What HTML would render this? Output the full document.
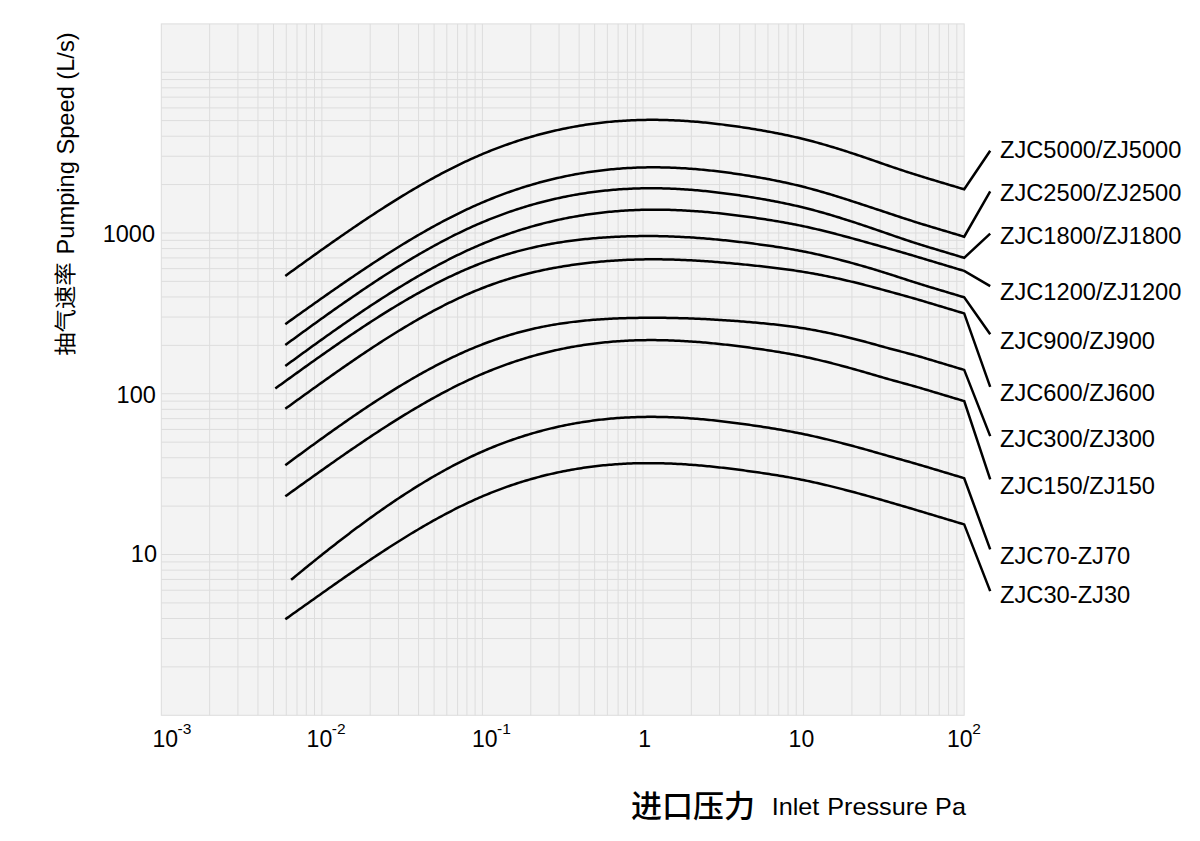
<!DOCTYPE html>
<html><head><meta charset="utf-8"><title>Pumping Speed</title>
<style>html,body{margin:0;padding:0;background:#fff;width:1200px;height:841px;overflow:hidden}svg{display:block}text{font-family:"Liberation Sans","Noto Sans CJK SC",Arial,sans-serif;fill:#000}</style></head><body>
<svg width="1200" height="841" viewBox="0 0 1200 841">
<rect x="161.3" y="23.9" width="802.9" height="691.4" fill="#f3f3f3"/>
<path d="M209.64 23.9V715.3M237.91 23.9V715.3M257.97 23.9V715.3M273.53 23.9V715.3M286.25 23.9V715.3M297.00 23.9V715.3M306.31 23.9V715.3M314.52 23.9V715.3M321.87 23.9V715.3M370.21 23.9V715.3M398.48 23.9V715.3M418.54 23.9V715.3M434.10 23.9V715.3M446.82 23.9V715.3M457.57 23.9V715.3M466.88 23.9V715.3M475.09 23.9V715.3M482.44 23.9V715.3M530.78 23.9V715.3M559.05 23.9V715.3M579.11 23.9V715.3M594.67 23.9V715.3M607.39 23.9V715.3M618.14 23.9V715.3M627.45 23.9V715.3M635.66 23.9V715.3M643.01 23.9V715.3M691.35 23.9V715.3M719.62 23.9V715.3M739.68 23.9V715.3M755.24 23.9V715.3M767.96 23.9V715.3M778.71 23.9V715.3M788.02 23.9V715.3M796.23 23.9V715.3M803.58 23.9V715.3M851.92 23.9V715.3M880.19 23.9V715.3M900.25 23.9V715.3M915.81 23.9V715.3M928.53 23.9V715.3M939.28 23.9V715.3M948.59 23.9V715.3M956.80 23.9V715.3M161.3 666.90H964.2M161.3 638.59H964.2M161.3 618.51H964.2M161.3 602.93H964.2M161.3 590.20H964.2M161.3 579.43H964.2M161.3 570.11H964.2M161.3 561.89H964.2M161.3 554.53H964.2M161.3 506.13H964.2M161.3 477.82H964.2M161.3 457.74H964.2M161.3 442.16H964.2M161.3 429.43H964.2M161.3 418.66H964.2M161.3 409.34H964.2M161.3 401.12H964.2M161.3 393.76H964.2M161.3 345.36H964.2M161.3 317.05H964.2M161.3 296.97H964.2M161.3 281.39H964.2M161.3 268.66H964.2M161.3 257.89H964.2M161.3 248.57H964.2M161.3 240.35H964.2M161.3 232.99H964.2M161.3 184.59H964.2M161.3 156.28H964.2M161.3 136.20H964.2M161.3 120.62H964.2M161.3 107.89H964.2M161.3 97.12H964.2M161.3 87.80H964.2M161.3 79.58H964.2M161.3 72.22H964.2" stroke="#dddddd" stroke-width="1" fill="none"/>
<rect x="161.3" y="23.9" width="802.9" height="691.4" fill="none" stroke="#dddddd" stroke-width="1"/>
<g stroke="#000" stroke-width="2.5" fill="none" stroke-linejoin="miter" stroke-miterlimit="10">
<path d="M285.3,275.94L287.3,274.49L289.3,273.05L291.3,271.60L293.3,270.16L295.3,268.72L297.3,267.27L299.3,265.83L301.3,264.40L303.3,262.96L305.3,261.52L307.3,260.09L309.3,258.65L311.3,257.22L313.3,255.80L315.3,254.37L317.3,252.94L319.3,251.52L321.3,250.10L323.3,248.69L325.3,247.27L327.3,245.86L329.3,244.45L331.3,243.04L333.3,241.64L335.3,240.24L337.3,238.85L339.3,237.45L341.3,236.06L343.3,234.68L345.3,233.30L347.3,231.92L349.3,230.55L351.3,229.18L353.3,227.81L355.3,226.45L357.3,225.10L359.3,223.74L361.3,222.40L363.3,221.06L365.3,219.72L367.3,218.39L369.3,217.06L371.3,215.74L373.3,214.42L375.3,213.11L377.3,211.81L379.3,210.51L381.3,209.22L383.3,207.93L385.3,206.65L387.3,205.37L389.3,204.10L391.3,202.84L393.3,201.59L395.3,200.34L397.3,199.09L399.3,197.86L401.3,196.63L403.3,195.41L405.3,194.20L407.3,192.99L409.3,191.79L411.3,190.60L413.3,189.41L415.3,188.24L417.3,187.07L419.3,185.91L421.3,184.76L423.3,183.62L425.3,182.48L427.3,181.35L429.3,180.24L431.3,179.13L433.3,178.03L435.3,176.93L437.3,175.85L439.3,174.78L441.3,173.71L443.3,172.66L445.3,171.61L447.3,170.58L449.3,169.55L451.3,168.54L453.3,167.53L455.3,166.54L457.3,165.55L459.3,164.57L461.3,163.61L463.3,162.66L465.3,161.71L467.3,160.78L469.3,159.86L471.3,158.95L473.3,158.05L475.3,157.16L477.3,156.28L479.3,155.41L481.3,154.56L483.3,153.72L485.3,152.88L487.3,152.06L489.3,151.25L491.3,150.45L493.3,149.66L495.3,148.89L497.3,148.12L499.3,147.37L501.3,146.62L503.3,145.89L505.3,145.17L507.3,144.45L509.3,143.75L511.3,143.06L513.3,142.38L515.3,141.72L517.3,141.06L519.3,140.41L521.3,139.78L523.3,139.15L525.3,138.53L527.3,137.93L529.3,137.34L531.3,136.75L533.3,136.18L535.3,135.62L537.3,135.06L539.3,134.52L541.3,133.99L543.3,133.47L545.3,132.96L547.3,132.46L549.3,131.97L551.3,131.49L553.3,131.02L555.3,130.56L557.3,130.11L559.3,129.67L561.3,129.24L563.3,128.82L565.3,128.41L567.3,128.01L569.3,127.62L571.3,127.24L573.3,126.87L575.3,126.51L577.3,126.16L579.3,125.82L581.3,125.49L583.3,125.17L585.3,124.86L587.3,124.55L589.3,124.26L591.3,123.98L593.3,123.71L595.3,123.45L597.3,123.19L599.3,122.95L601.3,122.71L603.3,122.49L605.3,122.27L607.3,122.07L609.3,121.87L611.3,121.68L613.3,121.50L615.3,121.33L617.3,121.18L619.3,121.02L621.3,120.88L623.3,120.75L625.3,120.63L627.3,120.51L629.3,120.41L631.3,120.31L633.3,120.23L635.3,120.15L637.3,120.08L639.3,120.02L641.3,119.97L643.3,119.93L645.3,119.89L647.3,119.87L649.3,119.85L651.3,119.85L653.3,119.85L655.3,119.86L657.3,119.87L659.3,119.90L661.3,119.94L663.3,119.98L665.3,120.03L667.3,120.09L669.3,120.15L671.3,120.23L673.3,120.31L675.3,120.40L677.3,120.50L679.3,120.60L681.3,120.71L683.3,120.83L685.3,120.96L687.3,121.09L689.3,121.23L691.3,121.38L693.3,121.54L695.3,121.70L697.3,121.87L699.3,122.04L701.3,122.22L703.3,122.41L705.3,122.61L707.3,122.81L709.3,123.01L711.3,123.23L713.3,123.45L715.3,123.67L717.3,123.90L719.3,124.14L721.3,124.38L723.3,124.63L725.3,124.89L727.3,125.15L729.3,125.41L731.3,125.69L733.3,125.96L735.3,126.24L737.3,126.53L739.3,126.82L741.3,127.12L743.3,127.42L745.3,127.73L747.3,128.04L749.3,128.35L751.3,128.67L753.3,129.00L755.3,129.33L757.3,129.66L759.3,130.00L761.3,130.34L763.3,130.69L765.3,131.05L767.3,131.41L769.3,131.77L771.3,132.14L773.3,132.52L775.3,132.90L777.3,133.29L779.3,133.68L781.3,134.08L783.3,134.49L785.3,134.91L787.3,135.33L789.3,135.76L791.3,136.20L793.3,136.64L795.3,137.10L797.3,137.56L799.3,138.03L801.3,138.51L803.3,139.00L805.3,139.49L807.3,140.00L809.3,140.51L811.3,141.04L813.3,141.57L815.3,142.11L817.3,142.66L819.3,143.21L821.3,143.77L823.3,144.34L825.3,144.92L827.3,145.50L829.3,146.10L831.3,146.69L833.3,147.30L835.3,147.91L837.3,148.52L839.3,149.14L841.3,149.77L843.3,150.40L845.3,151.04L847.3,151.68L849.3,152.33L851.3,152.98L853.3,153.64L855.3,154.30L857.3,154.97L859.3,155.64L861.3,156.31L863.3,156.99L865.3,157.67L867.3,158.35L869.3,159.03L871.3,159.72L873.3,160.41L875.3,161.11L877.3,161.80L879.3,162.50L881.3,163.20L883.3,163.89L885.3,164.59L887.3,165.28L889.3,165.96L891.3,166.65L893.3,167.33L895.3,168.01L897.3,168.68L899.3,169.35L901.3,170.02L903.3,170.68L905.3,171.34L907.3,171.99L909.3,172.64L911.3,173.29L913.3,173.92L915.3,174.56L917.3,175.18L919.3,175.80L921.3,176.42L923.3,177.03L925.3,177.63L927.3,178.23L929.3,178.83L931.3,179.43L933.3,180.03L935.3,180.63L937.3,181.23L939.3,181.83L941.3,182.43L943.3,183.03L945.3,183.63L947.3,184.23L949.3,184.83L951.3,185.43L953.3,186.03L955.3,186.63L957.3,187.23L959.3,187.83L961.3,188.43L963.3,189.03L964.2,189.30L990.2,150.70"/>
<path d="M285.3,324.15L287.3,322.72L289.3,321.30L291.3,319.87L293.3,318.44L295.3,317.02L297.3,315.59L299.3,314.17L301.3,312.75L303.3,311.32L305.3,309.90L307.3,308.48L309.3,307.06L311.3,305.65L313.3,304.23L315.3,302.82L317.3,301.40L319.3,299.99L321.3,298.59L323.3,297.18L325.3,295.78L327.3,294.37L329.3,292.98L331.3,291.58L333.3,290.19L335.3,288.79L337.3,287.41L339.3,286.02L341.3,284.64L343.3,283.26L345.3,281.89L347.3,280.52L349.3,279.15L351.3,277.78L353.3,276.43L355.3,275.07L357.3,273.72L359.3,272.37L361.3,271.03L363.3,269.69L365.3,268.36L367.3,267.03L369.3,265.70L371.3,264.38L373.3,263.07L375.3,261.76L377.3,260.46L379.3,259.16L381.3,257.87L383.3,256.58L385.3,255.30L387.3,254.02L389.3,252.75L391.3,251.49L393.3,250.23L395.3,248.98L397.3,247.74L399.3,246.50L401.3,245.27L403.3,244.05L405.3,242.83L407.3,241.62L409.3,240.42L411.3,239.22L413.3,238.04L415.3,236.86L417.3,235.68L419.3,234.52L421.3,233.36L423.3,232.21L425.3,231.07L427.3,229.94L429.3,228.82L431.3,227.70L433.3,226.60L435.3,225.50L437.3,224.41L439.3,223.33L441.3,222.26L443.3,221.20L445.3,220.15L447.3,219.10L449.3,218.07L451.3,217.05L453.3,216.03L455.3,215.03L457.3,214.03L459.3,213.05L461.3,212.08L463.3,211.11L465.3,210.16L467.3,209.22L469.3,208.29L471.3,207.37L473.3,206.46L475.3,205.56L477.3,204.67L479.3,203.80L481.3,202.93L483.3,202.08L485.3,201.24L487.3,200.41L489.3,199.59L491.3,198.78L493.3,197.98L495.3,197.19L497.3,196.41L499.3,195.65L501.3,194.89L503.3,194.15L505.3,193.41L507.3,192.69L509.3,191.98L511.3,191.28L513.3,190.59L515.3,189.91L517.3,189.24L519.3,188.58L521.3,187.93L523.3,187.30L525.3,186.67L527.3,186.05L529.3,185.45L531.3,184.85L533.3,184.27L535.3,183.69L537.3,183.13L539.3,182.57L541.3,182.03L543.3,181.50L545.3,180.98L547.3,180.46L549.3,179.96L551.3,179.47L553.3,178.99L555.3,178.52L557.3,178.05L559.3,177.60L561.3,177.16L563.3,176.73L565.3,176.31L567.3,175.90L569.3,175.50L571.3,175.11L573.3,174.72L575.3,174.35L577.3,173.99L579.3,173.64L581.3,173.30L583.3,172.97L585.3,172.64L587.3,172.33L589.3,172.03L591.3,171.74L593.3,171.45L595.3,171.18L597.3,170.91L599.3,170.66L601.3,170.42L603.3,170.18L605.3,169.95L607.3,169.74L609.3,169.53L611.3,169.33L613.3,169.15L615.3,168.97L617.3,168.80L619.3,168.64L621.3,168.49L623.3,168.35L625.3,168.22L627.3,168.09L629.3,167.98L631.3,167.88L633.3,167.78L635.3,167.69L637.3,167.62L639.3,167.55L641.3,167.49L643.3,167.44L645.3,167.40L647.3,167.37L649.3,167.35L651.3,167.33L653.3,167.33L655.3,167.33L657.3,167.34L659.3,167.36L661.3,167.39L663.3,167.43L665.3,167.48L667.3,167.53L669.3,167.59L671.3,167.66L673.3,167.74L675.3,167.83L677.3,167.92L679.3,168.02L681.3,168.13L683.3,168.25L685.3,168.37L687.3,168.50L689.3,168.64L691.3,168.79L693.3,168.94L695.3,169.10L697.3,169.27L699.3,169.44L701.3,169.62L703.3,169.81L705.3,170.00L707.3,170.20L709.3,170.41L711.3,170.63L713.3,170.85L715.3,171.07L717.3,171.31L719.3,171.55L721.3,171.79L723.3,172.05L725.3,172.30L727.3,172.57L729.3,172.84L731.3,173.11L733.3,173.39L735.3,173.68L737.3,173.97L739.3,174.27L741.3,174.57L743.3,174.88L745.3,175.19L747.3,175.51L749.3,175.83L751.3,176.16L753.3,176.50L755.3,176.83L757.3,177.18L759.3,177.53L761.3,177.88L763.3,178.24L765.3,178.60L767.3,178.97L769.3,179.35L771.3,179.73L773.3,180.12L775.3,180.51L777.3,180.91L779.3,181.32L781.3,181.74L783.3,182.16L785.3,182.59L787.3,183.03L789.3,183.47L791.3,183.93L793.3,184.39L795.3,184.86L797.3,185.33L799.3,185.82L801.3,186.31L803.3,186.82L805.3,187.33L807.3,187.85L809.3,188.38L811.3,188.91L813.3,189.46L815.3,190.01L817.3,190.57L819.3,191.13L821.3,191.70L823.3,192.28L825.3,192.87L827.3,193.46L829.3,194.06L831.3,194.66L833.3,195.27L835.3,195.88L837.3,196.50L839.3,197.12L841.3,197.75L843.3,198.38L845.3,199.02L847.3,199.66L849.3,200.30L851.3,200.94L853.3,201.59L855.3,202.24L857.3,202.89L859.3,203.55L861.3,204.20L863.3,204.86L865.3,205.52L867.3,206.18L869.3,206.84L871.3,207.50L873.3,208.16L875.3,208.83L877.3,209.49L879.3,210.15L881.3,210.81L883.3,211.47L885.3,212.14L887.3,212.80L889.3,213.47L891.3,214.13L893.3,214.79L895.3,215.46L897.3,216.12L899.3,216.78L901.3,217.44L903.3,218.09L905.3,218.75L907.3,219.40L909.3,220.04L911.3,220.68L913.3,221.32L915.3,221.95L917.3,222.58L919.3,223.20L921.3,223.82L923.3,224.43L925.3,225.03L927.3,225.63L929.3,226.23L931.3,226.83L933.3,227.43L935.3,228.03L937.3,228.63L939.3,229.23L941.3,229.83L943.3,230.43L945.3,231.03L947.3,231.63L949.3,232.23L951.3,232.83L953.3,233.43L955.3,234.03L957.3,234.63L959.3,235.23L961.3,235.83L963.3,236.43L964.2,236.70L990.2,191.40"/>
<path d="M285.3,344.99L287.3,343.53L289.3,342.07L291.3,340.60L293.3,339.14L295.3,337.68L297.3,336.22L299.3,334.76L301.3,333.31L303.3,331.85L305.3,330.40L307.3,328.94L309.3,327.49L311.3,326.05L313.3,324.60L315.3,323.16L317.3,321.72L319.3,320.28L321.3,318.85L323.3,317.41L325.3,315.98L327.3,314.56L329.3,313.13L331.3,311.71L333.3,310.30L335.3,308.89L337.3,307.48L339.3,306.07L341.3,304.67L343.3,303.27L345.3,301.88L347.3,300.49L349.3,299.10L351.3,297.72L353.3,296.34L355.3,294.97L357.3,293.60L359.3,292.24L361.3,290.88L363.3,289.53L365.3,288.18L367.3,286.84L369.3,285.51L371.3,284.17L373.3,282.85L375.3,281.53L377.3,280.22L379.3,278.91L381.3,277.61L383.3,276.31L385.3,275.02L387.3,273.74L389.3,272.46L391.3,271.19L393.3,269.93L395.3,268.67L397.3,267.42L399.3,266.18L401.3,264.95L403.3,263.72L405.3,262.50L407.3,261.29L409.3,260.08L411.3,258.88L413.3,257.69L415.3,256.51L417.3,255.34L419.3,254.18L421.3,253.02L423.3,251.87L425.3,250.73L427.3,249.60L429.3,248.48L431.3,247.36L433.3,246.26L435.3,245.16L437.3,244.08L439.3,243.00L441.3,241.93L443.3,240.88L445.3,239.83L447.3,238.79L449.3,237.76L451.3,236.74L453.3,235.73L455.3,234.74L457.3,233.75L459.3,232.77L461.3,231.81L463.3,230.85L465.3,229.90L467.3,228.97L469.3,228.05L471.3,227.13L473.3,226.23L475.3,225.34L477.3,224.47L479.3,223.60L481.3,222.74L483.3,221.90L485.3,221.07L487.3,220.25L489.3,219.44L491.3,218.64L493.3,217.85L495.3,217.07L497.3,216.31L499.3,215.55L501.3,214.81L503.3,214.08L505.3,213.35L507.3,212.64L509.3,211.94L511.3,211.26L513.3,210.58L515.3,209.91L517.3,209.25L519.3,208.61L521.3,207.97L523.3,207.35L525.3,206.74L527.3,206.13L529.3,205.54L531.3,204.96L533.3,204.39L535.3,203.83L537.3,203.28L539.3,202.74L541.3,202.21L543.3,201.69L545.3,201.18L547.3,200.68L549.3,200.20L551.3,199.72L553.3,199.25L555.3,198.79L557.3,198.35L559.3,197.91L561.3,197.48L563.3,197.07L565.3,196.66L567.3,196.26L569.3,195.88L571.3,195.50L573.3,195.13L575.3,194.78L577.3,194.43L579.3,194.09L581.3,193.77L583.3,193.45L585.3,193.14L587.3,192.84L589.3,192.56L591.3,192.28L593.3,192.01L595.3,191.75L597.3,191.50L599.3,191.26L601.3,191.03L603.3,190.81L605.3,190.59L607.3,190.39L609.3,190.20L611.3,190.02L613.3,189.84L615.3,189.68L617.3,189.52L619.3,189.37L621.3,189.24L623.3,189.11L625.3,188.99L627.3,188.88L629.3,188.78L631.3,188.69L633.3,188.60L635.3,188.53L637.3,188.46L639.3,188.41L641.3,188.36L643.3,188.32L645.3,188.29L647.3,188.27L649.3,188.26L651.3,188.26L653.3,188.26L655.3,188.27L657.3,188.30L659.3,188.33L661.3,188.36L663.3,188.41L665.3,188.46L667.3,188.53L669.3,188.60L671.3,188.67L673.3,188.76L675.3,188.85L677.3,188.95L679.3,189.06L681.3,189.18L683.3,189.30L685.3,189.43L687.3,189.56L689.3,189.71L691.3,189.86L693.3,190.02L695.3,190.18L697.3,190.35L699.3,190.53L701.3,190.71L703.3,190.90L705.3,191.10L707.3,191.31L709.3,191.51L711.3,191.73L713.3,191.95L715.3,192.18L717.3,192.41L719.3,192.65L721.3,192.90L723.3,193.15L725.3,193.41L727.3,193.67L729.3,193.93L731.3,194.21L733.3,194.48L735.3,194.77L737.3,195.06L739.3,195.35L741.3,195.65L743.3,195.95L745.3,196.26L747.3,196.57L749.3,196.89L751.3,197.21L753.3,197.53L755.3,197.86L757.3,198.20L759.3,198.53L761.3,198.88L763.3,199.23L765.3,199.58L767.3,199.94L769.3,200.30L771.3,200.67L773.3,201.05L775.3,201.43L777.3,201.81L779.3,202.21L781.3,202.61L783.3,203.02L785.3,203.43L787.3,203.85L789.3,204.28L791.3,204.72L793.3,205.16L795.3,205.61L797.3,206.07L799.3,206.54L801.3,207.02L803.3,207.50L805.3,208.00L807.3,208.50L809.3,209.01L811.3,209.53L813.3,210.06L815.3,210.59L817.3,211.14L819.3,211.69L821.3,212.25L823.3,212.81L825.3,213.38L827.3,213.96L829.3,214.55L831.3,215.14L833.3,215.74L835.3,216.35L837.3,216.96L839.3,217.57L841.3,218.19L843.3,218.82L845.3,219.45L847.3,220.09L849.3,220.73L851.3,221.38L853.3,222.03L855.3,222.68L857.3,223.34L859.3,224.00L861.3,224.66L863.3,225.33L865.3,226.00L867.3,226.68L869.3,227.35L871.3,228.03L873.3,228.72L875.3,229.40L877.3,230.09L879.3,230.77L881.3,231.46L883.3,232.15L885.3,232.85L887.3,233.54L889.3,234.23L891.3,234.93L893.3,235.62L895.3,236.31L897.3,237.00L899.3,237.69L901.3,238.37L903.3,239.05L905.3,239.72L907.3,240.40L909.3,241.06L911.3,241.72L913.3,242.37L915.3,243.02L917.3,243.66L919.3,244.29L921.3,244.91L923.3,245.53L925.3,246.13L927.3,246.73L929.3,247.33L931.3,247.93L933.3,248.53L935.3,249.13L937.3,249.73L939.3,250.33L941.3,250.93L943.3,251.53L945.3,252.13L947.3,252.73L949.3,253.33L951.3,253.93L953.3,254.53L955.3,255.13L957.3,255.73L959.3,256.33L961.3,256.93L963.3,257.53L964.2,257.80L990.2,233.70"/>
<path d="M285.3,365.99L287.3,364.53L289.3,363.07L291.3,361.60L293.3,360.14L295.3,358.68L297.3,357.22L299.3,355.76L301.3,354.30L303.3,352.85L305.3,351.40L307.3,349.95L309.3,348.50L311.3,347.05L313.3,345.61L315.3,344.17L317.3,342.73L319.3,341.30L321.3,339.87L323.3,338.44L325.3,337.01L327.3,335.59L329.3,334.17L331.3,332.75L333.3,331.34L335.3,329.93L337.3,328.53L339.3,327.13L341.3,325.73L343.3,324.33L345.3,322.95L347.3,321.56L349.3,320.18L351.3,318.81L353.3,317.43L355.3,316.07L357.3,314.71L359.3,313.35L361.3,312.00L363.3,310.65L365.3,309.31L367.3,307.98L369.3,306.65L371.3,305.32L373.3,304.00L375.3,302.69L377.3,301.38L379.3,300.08L381.3,298.79L383.3,297.50L385.3,296.22L387.3,294.94L389.3,293.67L391.3,292.41L393.3,291.16L395.3,289.91L397.3,288.67L399.3,287.43L401.3,286.21L403.3,284.99L405.3,283.77L407.3,282.57L409.3,281.37L411.3,280.18L413.3,279.00L415.3,277.83L417.3,276.66L419.3,275.51L421.3,274.36L423.3,273.22L425.3,272.09L427.3,270.96L429.3,269.85L431.3,268.75L433.3,267.65L435.3,266.56L437.3,265.48L439.3,264.42L441.3,263.36L443.3,262.31L445.3,261.27L447.3,260.24L449.3,259.22L451.3,258.21L453.3,257.21L455.3,256.22L457.3,255.24L459.3,254.27L461.3,253.31L463.3,252.36L465.3,251.42L467.3,250.49L469.3,249.58L471.3,248.67L473.3,247.78L475.3,246.90L477.3,246.03L479.3,245.17L481.3,244.32L483.3,243.48L485.3,242.66L487.3,241.84L489.3,241.04L491.3,240.24L493.3,239.46L495.3,238.69L497.3,237.93L499.3,237.18L501.3,236.45L503.3,235.72L505.3,235.00L507.3,234.30L509.3,233.60L511.3,232.92L513.3,232.25L515.3,231.58L517.3,230.93L519.3,230.29L521.3,229.66L523.3,229.04L525.3,228.43L527.3,227.83L529.3,227.24L531.3,226.66L533.3,226.10L535.3,225.54L537.3,224.99L539.3,224.45L541.3,223.93L543.3,223.41L545.3,222.90L547.3,222.41L549.3,221.92L551.3,221.45L553.3,220.98L555.3,220.52L557.3,220.08L559.3,219.64L561.3,219.21L563.3,218.80L565.3,218.39L567.3,217.99L569.3,217.60L571.3,217.23L573.3,216.86L575.3,216.50L577.3,216.15L579.3,215.81L581.3,215.48L583.3,215.16L585.3,214.85L587.3,214.55L589.3,214.26L591.3,213.97L593.3,213.70L595.3,213.44L597.3,213.18L599.3,212.94L601.3,212.70L603.3,212.47L605.3,212.25L607.3,212.05L609.3,211.85L611.3,211.65L613.3,211.47L615.3,211.30L617.3,211.14L619.3,210.98L621.3,210.83L623.3,210.70L625.3,210.57L627.3,210.45L629.3,210.34L631.3,210.23L633.3,210.14L635.3,210.05L637.3,209.98L639.3,209.91L641.3,209.85L643.3,209.80L645.3,209.75L647.3,209.72L649.3,209.69L651.3,209.67L653.3,209.66L655.3,209.66L657.3,209.66L659.3,209.68L661.3,209.70L663.3,209.73L665.3,209.76L667.3,209.81L669.3,209.86L671.3,209.92L673.3,209.98L675.3,210.06L677.3,210.14L679.3,210.22L681.3,210.32L683.3,210.42L685.3,210.53L687.3,210.64L689.3,210.76L691.3,210.89L693.3,211.02L695.3,211.16L697.3,211.31L699.3,211.46L701.3,211.62L703.3,211.78L705.3,211.95L707.3,212.12L709.3,212.31L711.3,212.49L713.3,212.68L715.3,212.88L717.3,213.09L719.3,213.29L721.3,213.51L723.3,213.73L725.3,213.95L727.3,214.18L729.3,214.41L731.3,214.65L733.3,214.89L735.3,215.14L737.3,215.39L739.3,215.65L741.3,215.91L743.3,216.17L745.3,216.44L747.3,216.72L749.3,216.99L751.3,217.27L753.3,217.56L755.3,217.85L757.3,218.14L759.3,218.43L761.3,218.73L763.3,219.04L765.3,219.34L767.3,219.66L769.3,219.97L771.3,220.29L773.3,220.62L775.3,220.95L777.3,221.29L779.3,221.63L781.3,221.97L783.3,222.33L785.3,222.69L787.3,223.05L789.3,223.42L791.3,223.80L793.3,224.18L795.3,224.58L797.3,224.97L799.3,225.38L801.3,225.79L803.3,226.21L805.3,226.64L807.3,227.07L809.3,227.52L811.3,227.96L813.3,228.42L815.3,228.88L817.3,229.35L819.3,229.83L821.3,230.31L823.3,230.79L825.3,231.29L827.3,231.78L829.3,232.29L831.3,232.79L833.3,233.31L835.3,233.82L837.3,234.34L839.3,234.87L841.3,235.40L843.3,235.93L845.3,236.47L847.3,237.00L849.3,237.55L851.3,238.09L853.3,238.64L855.3,239.19L857.3,239.74L859.3,240.29L861.3,240.85L863.3,241.40L865.3,241.96L867.3,242.52L869.3,243.08L871.3,243.64L873.3,244.20L875.3,244.76L877.3,245.32L879.3,245.88L881.3,246.44L883.3,247.00L885.3,247.56L887.3,248.13L889.3,248.70L891.3,249.27L893.3,249.84L895.3,250.41L897.3,250.99L899.3,251.57L901.3,252.15L903.3,252.73L905.3,253.31L907.3,253.89L909.3,254.48L911.3,255.07L913.3,255.66L915.3,256.25L917.3,256.84L919.3,257.44L921.3,258.03L923.3,258.63L925.3,259.23L927.3,259.83L929.3,260.43L931.3,261.03L933.3,261.63L935.3,262.23L937.3,262.83L939.3,263.43L941.3,264.03L943.3,264.63L945.3,265.23L947.3,265.83L949.3,266.43L951.3,267.03L953.3,267.63L955.3,268.23L957.3,268.83L959.3,269.43L961.3,270.03L963.3,270.63L964.2,270.90L990.2,286.10"/>
<path d="M275.3,388.49L277.3,387.04L279.3,385.60L281.3,384.15L283.3,382.71L285.3,381.27L287.3,379.82L289.3,378.38L291.3,376.94L293.3,375.50L295.3,374.06L297.3,372.62L299.3,371.18L301.3,369.75L303.3,368.32L305.3,366.88L307.3,365.45L309.3,364.03L311.3,362.60L313.3,361.18L315.3,359.76L317.3,358.34L319.3,356.93L321.3,355.52L323.3,354.11L325.3,352.70L327.3,351.30L329.3,349.90L331.3,348.51L333.3,347.12L335.3,345.73L337.3,344.35L339.3,342.97L341.3,341.59L343.3,340.22L345.3,338.85L347.3,337.49L349.3,336.13L351.3,334.78L353.3,333.43L355.3,332.09L357.3,330.75L359.3,329.42L361.3,328.09L363.3,326.77L365.3,325.46L367.3,324.15L369.3,322.84L371.3,321.54L373.3,320.25L375.3,318.97L377.3,317.69L379.3,316.42L381.3,315.15L383.3,313.89L385.3,312.64L387.3,311.39L389.3,310.16L391.3,308.93L393.3,307.70L395.3,306.49L397.3,305.28L399.3,304.08L401.3,302.89L403.3,301.70L405.3,300.53L407.3,299.36L409.3,298.20L411.3,297.05L413.3,295.91L415.3,294.78L417.3,293.65L419.3,292.54L421.3,291.43L423.3,290.33L425.3,289.25L427.3,288.17L429.3,287.10L431.3,286.05L433.3,285.00L435.3,283.96L437.3,282.93L439.3,281.91L441.3,280.91L443.3,279.91L445.3,278.93L447.3,277.95L449.3,276.99L451.3,276.04L453.3,275.09L455.3,274.16L457.3,273.25L459.3,272.34L461.3,271.44L463.3,270.56L465.3,269.69L467.3,268.83L469.3,267.98L471.3,267.15L473.3,266.33L475.3,265.52L477.3,264.72L479.3,263.94L481.3,263.16L483.3,262.40L485.3,261.66L487.3,260.92L489.3,260.20L491.3,259.49L493.3,258.80L495.3,258.11L497.3,257.44L499.3,256.78L501.3,256.14L503.3,255.50L505.3,254.88L507.3,254.27L509.3,253.68L511.3,253.09L513.3,252.52L515.3,251.96L517.3,251.41L519.3,250.88L521.3,250.35L523.3,249.84L525.3,249.34L527.3,248.85L529.3,248.37L531.3,247.91L533.3,247.45L535.3,247.01L537.3,246.57L539.3,246.15L541.3,245.74L543.3,245.33L545.3,244.94L547.3,244.56L549.3,244.19L551.3,243.83L553.3,243.48L555.3,243.14L557.3,242.81L559.3,242.48L561.3,242.17L563.3,241.87L565.3,241.57L567.3,241.29L569.3,241.01L571.3,240.74L573.3,240.49L575.3,240.23L577.3,239.99L579.3,239.76L581.3,239.53L583.3,239.32L585.3,239.11L587.3,238.91L589.3,238.71L591.3,238.53L593.3,238.35L595.3,238.18L597.3,238.02L599.3,237.86L601.3,237.71L603.3,237.57L605.3,237.43L607.3,237.31L609.3,237.18L611.3,237.07L613.3,236.96L615.3,236.85L617.3,236.76L619.3,236.67L621.3,236.58L623.3,236.50L625.3,236.43L627.3,236.36L629.3,236.30L631.3,236.25L633.3,236.20L635.3,236.16L637.3,236.13L639.3,236.10L641.3,236.08L643.3,236.06L645.3,236.05L647.3,236.05L649.3,236.05L651.3,236.06L653.3,236.07L655.3,236.09L657.3,236.12L659.3,236.15L661.3,236.19L663.3,236.24L665.3,236.29L667.3,236.35L669.3,236.41L671.3,236.48L673.3,236.56L675.3,236.64L677.3,236.72L679.3,236.82L681.3,236.91L683.3,237.02L685.3,237.13L687.3,237.24L689.3,237.36L691.3,237.49L693.3,237.62L695.3,237.75L697.3,237.89L699.3,238.04L701.3,238.19L703.3,238.35L705.3,238.51L707.3,238.67L709.3,238.84L711.3,239.01L713.3,239.19L715.3,239.38L717.3,239.56L719.3,239.76L721.3,239.95L723.3,240.15L725.3,240.36L727.3,240.57L729.3,240.78L731.3,240.99L733.3,241.21L735.3,241.44L737.3,241.67L739.3,241.90L741.3,242.13L743.3,242.37L745.3,242.61L747.3,242.86L749.3,243.11L751.3,243.36L753.3,243.61L755.3,243.87L757.3,244.13L759.3,244.39L761.3,244.66L763.3,244.93L765.3,245.21L767.3,245.49L769.3,245.77L771.3,246.06L773.3,246.35L775.3,246.65L777.3,246.95L779.3,247.26L781.3,247.57L783.3,247.89L785.3,248.21L787.3,248.55L789.3,248.88L791.3,249.23L793.3,249.58L795.3,249.93L797.3,250.30L799.3,250.67L801.3,251.05L803.3,251.43L805.3,251.83L807.3,252.23L809.3,252.64L811.3,253.06L813.3,253.49L815.3,253.92L817.3,254.36L819.3,254.81L821.3,255.26L823.3,255.72L825.3,256.19L827.3,256.66L829.3,257.15L831.3,257.63L833.3,258.13L835.3,258.63L837.3,259.13L839.3,259.65L841.3,260.17L843.3,260.69L845.3,261.22L847.3,261.75L849.3,262.30L851.3,262.84L853.3,263.39L855.3,263.95L857.3,264.51L859.3,265.08L861.3,265.65L863.3,266.22L865.3,266.80L867.3,267.39L869.3,267.98L871.3,268.57L873.3,269.17L875.3,269.77L877.3,270.37L879.3,270.98L881.3,271.59L883.3,272.21L885.3,272.84L887.3,273.47L889.3,274.11L891.3,274.75L893.3,275.40L895.3,276.05L897.3,276.70L899.3,277.35L901.3,278.01L903.3,278.66L905.3,279.31L907.3,279.96L909.3,280.61L911.3,281.26L913.3,281.90L915.3,282.54L917.3,283.17L919.3,283.80L921.3,284.42L923.3,285.03L925.3,285.63L927.3,286.23L929.3,286.83L931.3,287.43L933.3,288.03L935.3,288.63L937.3,289.23L939.3,289.83L941.3,290.43L943.3,291.03L945.3,291.63L947.3,292.23L949.3,292.83L951.3,293.43L953.3,294.03L955.3,294.63L957.3,295.23L959.3,295.83L961.3,296.43L963.3,297.03L964.2,297.30L990.2,334.30"/>
<path d="M285.3,408.79L287.3,407.35L289.3,405.90L291.3,404.45L293.3,403.01L295.3,401.56L297.3,400.11L299.3,398.67L301.3,397.23L303.3,395.78L305.3,394.34L307.3,392.90L309.3,391.46L311.3,390.03L313.3,388.59L315.3,387.16L317.3,385.73L319.3,384.30L321.3,382.87L323.3,381.45L325.3,380.03L327.3,378.61L329.3,377.19L331.3,375.78L333.3,374.37L335.3,372.97L337.3,371.56L339.3,370.16L341.3,368.77L343.3,367.38L345.3,365.99L347.3,364.61L349.3,363.23L351.3,361.85L353.3,360.48L355.3,359.12L357.3,357.76L359.3,356.40L361.3,355.05L363.3,353.70L365.3,352.36L367.3,351.03L369.3,349.70L371.3,348.38L373.3,347.06L375.3,345.75L377.3,344.44L379.3,343.15L381.3,341.85L383.3,340.57L385.3,339.29L387.3,338.02L389.3,336.75L391.3,335.49L393.3,334.24L395.3,333.00L397.3,331.76L399.3,330.54L401.3,329.32L403.3,328.10L405.3,326.90L407.3,325.71L409.3,324.52L411.3,323.34L413.3,322.17L415.3,321.01L417.3,319.85L419.3,318.71L421.3,317.58L423.3,316.45L425.3,315.34L427.3,314.23L429.3,313.14L431.3,312.05L433.3,310.97L435.3,309.91L437.3,308.85L439.3,307.81L441.3,306.77L443.3,305.75L445.3,304.73L447.3,303.73L449.3,302.74L451.3,301.76L453.3,300.79L455.3,299.84L457.3,298.89L459.3,297.96L461.3,297.04L463.3,296.13L465.3,295.23L467.3,294.35L469.3,293.48L471.3,292.62L473.3,291.77L475.3,290.94L477.3,290.11L479.3,289.31L481.3,288.51L483.3,287.73L485.3,286.96L487.3,286.20L489.3,285.46L491.3,284.73L493.3,284.01L495.3,283.31L497.3,282.62L499.3,281.94L501.3,281.28L503.3,280.62L505.3,279.98L507.3,279.36L509.3,278.74L511.3,278.14L513.3,277.55L515.3,276.97L517.3,276.40L519.3,275.85L521.3,275.30L523.3,274.77L525.3,274.25L527.3,273.74L529.3,273.24L531.3,272.76L533.3,272.28L535.3,271.81L537.3,271.36L539.3,270.91L541.3,270.48L543.3,270.06L545.3,269.64L547.3,269.24L549.3,268.84L551.3,268.46L553.3,268.08L555.3,267.71L557.3,267.36L559.3,267.01L561.3,266.67L563.3,266.34L565.3,266.02L567.3,265.70L569.3,265.40L571.3,265.10L573.3,264.81L575.3,264.53L577.3,264.26L579.3,264.00L581.3,263.74L583.3,263.49L585.3,263.25L587.3,263.01L589.3,262.79L591.3,262.57L593.3,262.36L595.3,262.15L597.3,261.95L599.3,261.76L601.3,261.58L603.3,261.41L605.3,261.24L607.3,261.08L609.3,260.92L611.3,260.78L613.3,260.64L615.3,260.51L617.3,260.38L619.3,260.26L621.3,260.15L623.3,260.05L625.3,259.95L627.3,259.86L629.3,259.78L631.3,259.70L633.3,259.63L635.3,259.57L637.3,259.51L639.3,259.46L641.3,259.42L643.3,259.39L645.3,259.36L647.3,259.34L649.3,259.32L651.3,259.31L653.3,259.31L655.3,259.31L657.3,259.32L659.3,259.33L661.3,259.36L663.3,259.38L665.3,259.42L667.3,259.46L669.3,259.50L671.3,259.55L673.3,259.61L675.3,259.67L677.3,259.73L679.3,259.81L681.3,259.88L683.3,259.97L685.3,260.05L687.3,260.14L689.3,260.24L691.3,260.34L693.3,260.45L695.3,260.56L697.3,260.68L699.3,260.80L701.3,260.92L703.3,261.05L705.3,261.19L707.3,261.32L709.3,261.46L711.3,261.61L713.3,261.76L715.3,261.91L717.3,262.07L719.3,262.23L721.3,262.40L723.3,262.56L725.3,262.73L727.3,262.91L729.3,263.09L731.3,263.27L733.3,263.45L735.3,263.64L737.3,263.83L739.3,264.02L741.3,264.22L743.3,264.42L745.3,264.62L747.3,264.82L749.3,265.03L751.3,265.24L753.3,265.45L755.3,265.66L757.3,265.88L759.3,266.09L761.3,266.31L763.3,266.54L765.3,266.76L767.3,266.99L769.3,267.23L771.3,267.46L773.3,267.70L775.3,267.94L777.3,268.19L779.3,268.44L781.3,268.70L783.3,268.96L785.3,269.23L787.3,269.50L789.3,269.77L791.3,270.05L793.3,270.34L795.3,270.63L797.3,270.93L799.3,271.24L801.3,271.55L803.3,271.87L805.3,272.20L807.3,272.54L809.3,272.88L811.3,273.23L813.3,273.58L815.3,273.95L817.3,274.32L819.3,274.70L821.3,275.08L823.3,275.47L825.3,275.87L827.3,276.28L829.3,276.69L831.3,277.10L833.3,277.53L835.3,277.96L837.3,278.39L839.3,278.84L841.3,279.28L843.3,279.74L845.3,280.20L847.3,280.66L849.3,281.13L851.3,281.61L853.3,282.09L855.3,282.58L857.3,283.07L859.3,283.57L861.3,284.07L863.3,284.58L865.3,285.09L867.3,285.61L869.3,286.13L871.3,286.66L873.3,287.19L875.3,287.72L877.3,288.26L879.3,288.81L881.3,289.35L883.3,289.90L885.3,290.45L887.3,290.99L889.3,291.54L891.3,292.09L893.3,292.64L895.3,293.18L897.3,293.73L899.3,294.29L901.3,294.84L903.3,295.39L905.3,295.95L907.3,296.51L909.3,297.08L911.3,297.64L913.3,298.22L915.3,298.79L917.3,299.37L919.3,299.95L921.3,300.54L923.3,301.13L925.3,301.73L927.3,302.33L929.3,302.93L931.3,303.53L933.3,304.13L935.3,304.73L937.3,305.33L939.3,305.93L941.3,306.53L943.3,307.13L945.3,307.73L947.3,308.33L949.3,308.93L951.3,309.53L953.3,310.13L955.3,310.73L957.3,311.33L959.3,311.93L961.3,312.53L963.3,313.13L964.2,313.40L990.2,386.90"/>
<path d="M285.3,465.19L287.3,463.72L289.3,462.24L291.3,460.77L293.3,459.29L295.3,457.82L297.3,456.35L299.3,454.88L301.3,453.41L303.3,451.95L305.3,450.48L307.3,449.02L309.3,447.56L311.3,446.11L313.3,444.65L315.3,443.20L317.3,441.75L319.3,440.31L321.3,438.87L323.3,437.43L325.3,436.00L327.3,434.56L329.3,433.14L331.3,431.71L333.3,430.29L335.3,428.88L337.3,427.47L339.3,426.06L341.3,424.65L343.3,423.26L345.3,421.86L347.3,420.47L349.3,419.09L351.3,417.71L353.3,416.34L355.3,414.97L357.3,413.60L359.3,412.25L361.3,410.89L363.3,409.55L365.3,408.21L367.3,406.87L369.3,405.55L371.3,404.22L373.3,402.91L375.3,401.60L377.3,400.30L379.3,399.00L381.3,397.71L383.3,396.43L385.3,395.16L387.3,393.89L389.3,392.63L391.3,391.38L393.3,390.13L395.3,388.89L397.3,387.66L399.3,386.44L401.3,385.23L403.3,384.03L405.3,382.83L407.3,381.64L409.3,380.46L411.3,379.29L413.3,378.13L415.3,376.98L417.3,375.83L419.3,374.70L421.3,373.58L423.3,372.46L425.3,371.35L427.3,370.26L429.3,369.17L431.3,368.10L433.3,367.03L435.3,365.97L437.3,364.93L439.3,363.89L441.3,362.87L443.3,361.86L445.3,360.85L447.3,359.86L449.3,358.88L451.3,357.91L453.3,356.96L455.3,356.01L457.3,355.07L459.3,354.15L461.3,353.24L463.3,352.34L465.3,351.45L467.3,350.58L469.3,349.72L471.3,348.87L473.3,348.03L475.3,347.20L477.3,346.39L479.3,345.59L481.3,344.81L483.3,344.03L485.3,343.27L487.3,342.52L489.3,341.79L491.3,341.07L493.3,340.35L495.3,339.66L497.3,338.97L499.3,338.30L501.3,337.64L503.3,336.99L505.3,336.36L507.3,335.73L509.3,335.13L511.3,334.53L513.3,333.94L515.3,333.37L517.3,332.81L519.3,332.26L521.3,331.73L523.3,331.20L525.3,330.69L527.3,330.19L529.3,329.71L531.3,329.23L533.3,328.77L535.3,328.32L537.3,327.89L539.3,327.46L541.3,327.05L543.3,326.64L545.3,326.25L547.3,325.87L549.3,325.50L551.3,325.14L553.3,324.80L555.3,324.46L557.3,324.13L559.3,323.82L561.3,323.51L563.3,323.21L565.3,322.93L567.3,322.65L569.3,322.38L571.3,322.12L573.3,321.88L575.3,321.64L577.3,321.40L579.3,321.18L581.3,320.97L583.3,320.76L585.3,320.57L587.3,320.38L589.3,320.20L591.3,320.03L593.3,319.86L595.3,319.70L597.3,319.55L599.3,319.41L601.3,319.28L603.3,319.15L605.3,319.03L607.3,318.91L609.3,318.80L611.3,318.70L613.3,318.61L615.3,318.52L617.3,318.43L619.3,318.35L621.3,318.28L623.3,318.21L625.3,318.15L627.3,318.10L629.3,318.05L631.3,318.00L633.3,317.96L635.3,317.92L637.3,317.89L639.3,317.86L641.3,317.83L643.3,317.81L645.3,317.80L647.3,317.78L649.3,317.78L651.3,317.77L653.3,317.77L655.3,317.78L657.3,317.79L659.3,317.80L661.3,317.81L663.3,317.83L665.3,317.86L667.3,317.88L669.3,317.92L671.3,317.95L673.3,317.99L675.3,318.03L677.3,318.08L679.3,318.13L681.3,318.18L683.3,318.24L685.3,318.30L687.3,318.37L689.3,318.44L691.3,318.51L693.3,318.59L695.3,318.67L697.3,318.75L699.3,318.84L701.3,318.93L703.3,319.02L705.3,319.12L707.3,319.22L709.3,319.32L711.3,319.43L713.3,319.54L715.3,319.65L717.3,319.77L719.3,319.89L721.3,320.01L723.3,320.14L725.3,320.27L727.3,320.41L729.3,320.54L731.3,320.68L733.3,320.83L735.3,320.97L737.3,321.12L739.3,321.27L741.3,321.43L743.3,321.59L745.3,321.75L747.3,321.91L749.3,322.08L751.3,322.25L753.3,322.42L755.3,322.60L757.3,322.78L759.3,322.96L761.3,323.15L763.3,323.34L765.3,323.53L767.3,323.73L769.3,323.93L771.3,324.14L773.3,324.35L775.3,324.56L777.3,324.79L779.3,325.01L781.3,325.25L783.3,325.49L785.3,325.73L787.3,325.99L789.3,326.25L791.3,326.51L793.3,326.79L795.3,327.07L797.3,327.36L799.3,327.66L801.3,327.96L803.3,328.28L805.3,328.60L807.3,328.94L809.3,329.28L811.3,329.63L813.3,329.99L815.3,330.35L817.3,330.73L819.3,331.11L821.3,331.50L823.3,331.90L825.3,332.31L827.3,332.72L829.3,333.14L831.3,333.57L833.3,334.01L835.3,334.45L837.3,334.90L839.3,335.36L841.3,335.82L843.3,336.29L845.3,336.76L847.3,337.24L849.3,337.73L851.3,338.23L853.3,338.72L855.3,339.23L857.3,339.74L859.3,340.26L861.3,340.78L863.3,341.30L865.3,341.83L867.3,342.37L869.3,342.91L871.3,343.45L873.3,344.00L875.3,344.56L877.3,345.11L879.3,345.68L881.3,346.24L883.3,346.79L885.3,347.34L887.3,347.89L889.3,348.42L891.3,348.96L893.3,349.49L895.3,350.02L897.3,350.54L899.3,351.07L901.3,351.59L903.3,352.12L905.3,352.65L907.3,353.18L909.3,353.71L911.3,354.25L913.3,354.80L915.3,355.35L917.3,355.91L919.3,356.47L921.3,357.05L923.3,357.63L925.3,358.23L927.3,358.83L929.3,359.43L931.3,360.03L933.3,360.63L935.3,361.23L937.3,361.83L939.3,362.43L941.3,363.03L943.3,363.63L945.3,364.23L947.3,364.83L949.3,365.43L951.3,366.03L953.3,366.63L955.3,367.23L957.3,367.83L959.3,368.43L961.3,369.03L963.3,369.63L964.2,369.90L990.2,436.10"/>
<path d="M285.3,496.35L287.3,494.91L289.3,493.48L291.3,492.04L293.3,490.61L295.3,489.17L297.3,487.74L299.3,486.31L301.3,484.87L303.3,483.44L305.3,482.01L307.3,480.58L309.3,479.15L311.3,477.73L313.3,476.30L315.3,474.88L317.3,473.45L319.3,472.03L321.3,470.61L323.3,469.20L325.3,467.78L327.3,466.37L329.3,464.96L331.3,463.55L333.3,462.15L335.3,460.75L337.3,459.35L339.3,457.95L341.3,456.56L343.3,455.17L345.3,453.79L347.3,452.40L349.3,451.03L351.3,449.65L353.3,448.28L355.3,446.91L357.3,445.55L359.3,444.19L361.3,442.84L363.3,441.49L365.3,440.14L367.3,438.80L369.3,437.47L371.3,436.14L373.3,434.81L375.3,433.49L377.3,432.18L379.3,430.87L381.3,429.57L383.3,428.27L385.3,426.98L387.3,425.69L389.3,424.41L391.3,423.14L393.3,421.88L395.3,420.62L397.3,419.36L399.3,418.12L401.3,416.88L403.3,415.64L405.3,414.42L407.3,413.20L409.3,411.99L411.3,410.78L413.3,409.59L415.3,408.40L417.3,407.22L419.3,406.05L421.3,404.88L423.3,403.73L425.3,402.58L427.3,401.44L429.3,400.31L431.3,399.19L433.3,398.08L435.3,396.98L437.3,395.88L439.3,394.80L441.3,393.72L443.3,392.65L445.3,391.60L447.3,390.55L449.3,389.51L451.3,388.49L453.3,387.47L455.3,386.46L457.3,385.47L459.3,384.48L461.3,383.50L463.3,382.54L465.3,381.59L467.3,380.64L469.3,379.71L471.3,378.79L473.3,377.88L475.3,376.98L477.3,376.10L479.3,375.22L481.3,374.36L483.3,373.51L485.3,372.67L487.3,371.84L489.3,371.02L491.3,370.22L493.3,369.42L495.3,368.64L497.3,367.87L499.3,367.11L501.3,366.36L503.3,365.62L505.3,364.90L507.3,364.18L509.3,363.48L511.3,362.78L513.3,362.10L515.3,361.43L517.3,360.77L519.3,360.12L521.3,359.49L523.3,358.86L525.3,358.25L527.3,357.64L529.3,357.05L531.3,356.47L533.3,355.90L535.3,355.34L537.3,354.79L539.3,354.25L541.3,353.73L543.3,353.21L545.3,352.70L547.3,352.21L549.3,351.73L551.3,351.25L553.3,350.79L555.3,350.34L557.3,349.90L559.3,349.47L561.3,349.05L563.3,348.64L565.3,348.24L567.3,347.85L569.3,347.47L571.3,347.10L573.3,346.74L575.3,346.39L577.3,346.05L579.3,345.73L581.3,345.41L583.3,345.10L585.3,344.80L587.3,344.51L589.3,344.23L591.3,343.96L593.3,343.70L595.3,343.45L597.3,343.21L599.3,342.97L601.3,342.75L603.3,342.54L605.3,342.34L607.3,342.14L609.3,341.96L611.3,341.78L613.3,341.61L615.3,341.45L617.3,341.30L619.3,341.16L621.3,341.03L623.3,340.91L625.3,340.80L627.3,340.69L629.3,340.60L631.3,340.51L633.3,340.43L635.3,340.36L637.3,340.30L639.3,340.24L641.3,340.20L643.3,340.16L645.3,340.13L647.3,340.11L649.3,340.10L651.3,340.10L653.3,340.10L655.3,340.11L657.3,340.13L659.3,340.16L661.3,340.19L663.3,340.23L665.3,340.28L667.3,340.34L669.3,340.40L671.3,340.47L673.3,340.55L675.3,340.63L677.3,340.72L679.3,340.82L681.3,340.92L683.3,341.03L685.3,341.15L687.3,341.27L689.3,341.40L691.3,341.53L693.3,341.67L695.3,341.82L697.3,341.97L699.3,342.12L701.3,342.28L703.3,342.45L705.3,342.62L707.3,342.80L709.3,342.99L711.3,343.17L713.3,343.37L715.3,343.56L717.3,343.77L719.3,343.97L721.3,344.19L723.3,344.40L725.3,344.62L727.3,344.85L729.3,345.08L731.3,345.31L733.3,345.55L735.3,345.79L737.3,346.04L739.3,346.29L741.3,346.54L743.3,346.80L745.3,347.06L747.3,347.33L749.3,347.60L751.3,347.87L753.3,348.15L755.3,348.43L757.3,348.71L759.3,348.99L761.3,349.28L763.3,349.58L765.3,349.88L767.3,350.18L769.3,350.48L771.3,350.79L773.3,351.11L775.3,351.43L777.3,351.76L779.3,352.09L781.3,352.42L783.3,352.77L785.3,353.12L787.3,353.47L789.3,353.83L791.3,354.20L793.3,354.58L795.3,354.96L797.3,355.35L799.3,355.74L801.3,356.15L803.3,356.56L805.3,356.98L807.3,357.41L809.3,357.84L811.3,358.28L813.3,358.73L815.3,359.19L817.3,359.65L819.3,360.13L821.3,360.60L823.3,361.09L825.3,361.58L827.3,362.07L829.3,362.57L831.3,363.08L833.3,363.59L835.3,364.11L837.3,364.63L839.3,365.16L841.3,365.69L843.3,366.22L845.3,366.77L847.3,367.31L849.3,367.86L851.3,368.41L853.3,368.96L855.3,369.52L857.3,370.09L859.3,370.65L861.3,371.22L863.3,371.79L865.3,372.36L867.3,372.94L869.3,373.52L871.3,374.10L873.3,374.69L875.3,375.27L877.3,375.86L879.3,376.45L881.3,377.04L883.3,377.63L885.3,378.20L887.3,378.77L889.3,379.34L891.3,379.90L893.3,380.45L895.3,381.00L897.3,381.55L899.3,382.10L901.3,382.65L903.3,383.20L905.3,383.74L907.3,384.29L909.3,384.85L911.3,385.40L913.3,385.96L915.3,386.52L917.3,387.09L919.3,387.66L921.3,388.24L923.3,388.83L925.3,389.43L927.3,390.03L929.3,390.63L931.3,391.23L933.3,391.83L935.3,392.43L937.3,393.03L939.3,393.63L941.3,394.23L943.3,394.83L945.3,395.43L947.3,396.03L949.3,396.63L951.3,397.23L953.3,397.83L955.3,398.43L957.3,399.03L959.3,399.63L961.3,400.23L963.3,400.83L964.2,401.10L990.2,479.30"/>
<path d="M291.1,579.84L293.1,578.20L295.1,576.55L297.1,574.90L299.1,573.26L301.1,571.61L303.1,569.98L305.1,568.34L307.1,566.71L309.1,565.09L311.1,563.47L313.1,561.85L315.1,560.24L317.1,558.63L319.1,557.03L321.1,555.43L323.1,553.84L325.1,552.25L327.1,550.67L329.1,549.09L331.1,547.52L333.1,545.96L335.1,544.40L337.1,542.84L339.1,541.29L341.1,539.75L343.1,538.21L345.1,536.68L347.1,535.15L349.1,533.64L351.1,532.12L353.1,530.62L355.1,529.12L357.1,527.62L359.1,526.14L361.1,524.66L363.1,523.19L365.1,521.72L367.1,520.26L369.1,518.81L371.1,517.37L373.1,515.93L375.1,514.50L377.1,513.08L379.1,511.67L381.1,510.26L383.1,508.87L385.1,507.48L387.1,506.09L389.1,504.72L391.1,503.36L393.1,502.00L395.1,500.65L397.1,499.31L399.1,497.98L401.1,496.66L403.1,495.35L405.1,494.04L407.1,492.75L409.1,491.46L411.1,490.18L413.1,488.92L415.1,487.66L417.1,486.41L419.1,485.17L421.1,483.94L423.1,482.73L425.1,481.52L427.1,480.32L429.1,479.13L431.1,477.95L433.1,476.78L435.1,475.63L437.1,474.48L439.1,473.34L441.1,472.22L443.1,471.10L445.1,470.00L447.1,468.91L449.1,467.82L451.1,466.75L453.1,465.69L455.1,464.65L457.1,463.61L459.1,462.59L461.1,461.57L463.1,460.57L465.1,459.58L467.1,458.61L469.1,457.64L471.1,456.69L473.1,455.75L475.1,454.82L477.1,453.91L479.1,453.00L481.1,452.11L483.1,451.24L485.1,450.37L487.1,449.52L489.1,448.67L491.1,447.85L493.1,447.03L495.1,446.22L497.1,445.43L499.1,444.65L501.1,443.88L503.1,443.12L505.1,442.38L507.1,441.64L509.1,440.92L511.1,440.21L513.1,439.51L515.1,438.83L517.1,438.15L519.1,437.49L521.1,436.83L523.1,436.19L525.1,435.56L527.1,434.94L529.1,434.34L531.1,433.74L533.1,433.16L535.1,432.58L537.1,432.02L539.1,431.47L541.1,430.93L543.1,430.40L545.1,429.88L547.1,429.37L549.1,428.88L551.1,428.39L553.1,427.92L555.1,427.45L557.1,427.00L559.1,426.56L561.1,426.12L563.1,425.70L565.1,425.29L567.1,424.89L569.1,424.50L571.1,424.12L573.1,423.75L575.1,423.39L577.1,423.04L579.1,422.70L581.1,422.37L583.1,422.05L585.1,421.74L587.1,421.44L589.1,421.15L591.1,420.87L593.1,420.60L595.1,420.34L597.1,420.09L599.1,419.85L601.1,419.62L603.1,419.40L605.1,419.19L607.1,418.98L609.1,418.79L611.1,418.61L613.1,418.43L615.1,418.27L617.1,418.11L619.1,417.97L621.1,417.83L623.1,417.70L625.1,417.59L627.1,417.48L629.1,417.38L631.1,417.28L633.1,417.20L635.1,417.13L637.1,417.06L639.1,417.01L641.1,416.96L643.1,416.92L645.1,416.89L647.1,416.87L649.1,416.86L651.1,416.85L653.1,416.86L655.1,416.87L657.1,416.89L659.1,416.92L661.1,416.95L663.1,417.00L665.1,417.05L667.1,417.11L669.1,417.17L671.1,417.25L673.1,417.33L675.1,417.42L677.1,417.51L679.1,417.62L681.1,417.73L683.1,417.84L685.1,417.97L687.1,418.10L689.1,418.23L691.1,418.38L693.1,418.52L695.1,418.68L697.1,418.84L699.1,419.01L701.1,419.18L703.1,419.36L705.1,419.54L707.1,419.73L709.1,419.93L711.1,420.13L713.1,420.34L715.1,420.55L717.1,420.77L719.1,420.99L721.1,421.21L723.1,421.44L725.1,421.68L727.1,421.92L729.1,422.17L731.1,422.41L733.1,422.67L735.1,422.93L737.1,423.19L739.1,423.45L741.1,423.72L743.1,423.99L745.1,424.27L747.1,424.55L749.1,424.83L751.1,425.12L753.1,425.41L755.1,425.70L757.1,426.00L759.1,426.30L761.1,426.60L763.1,426.90L765.1,427.21L767.1,427.52L769.1,427.84L771.1,428.16L773.1,428.49L775.1,428.82L777.1,429.15L779.1,429.49L781.1,429.84L783.1,430.18L785.1,430.54L787.1,430.90L789.1,431.26L791.1,431.64L793.1,432.01L795.1,432.40L797.1,432.79L799.1,433.18L801.1,433.59L803.1,434.00L805.1,434.41L807.1,434.84L809.1,435.27L811.1,435.70L813.1,436.15L815.1,436.60L817.1,437.05L819.1,437.51L821.1,437.98L823.1,438.45L825.1,438.92L827.1,439.41L829.1,439.89L831.1,440.38L833.1,440.88L835.1,441.38L837.1,441.88L839.1,442.39L841.1,442.90L843.1,443.42L845.1,443.94L847.1,444.47L849.1,445.00L851.1,445.53L853.1,446.07L855.1,446.61L857.1,447.15L859.1,447.70L861.1,448.25L863.1,448.80L865.1,449.36L867.1,449.92L869.1,450.48L871.1,451.05L873.1,451.61L875.1,452.18L877.1,452.76L879.1,453.33L881.1,453.91L883.1,454.48L885.1,455.05L887.1,455.62L889.1,456.19L891.1,456.75L893.1,457.32L895.1,457.88L897.1,458.44L899.1,459.00L901.1,459.56L903.1,460.12L905.1,460.68L907.1,461.25L909.1,461.82L911.1,462.39L913.1,462.96L915.1,463.53L917.1,464.11L919.1,464.69L921.1,465.28L923.1,465.87L925.1,466.47L927.1,467.07L929.1,467.67L931.1,468.27L933.1,468.87L935.1,469.47L937.1,470.07L939.1,470.67L941.1,471.27L943.1,471.87L945.1,472.47L947.1,473.07L949.1,473.67L951.1,474.27L953.1,474.87L955.1,475.47L957.1,476.07L959.1,476.67L961.1,477.27L963.1,477.87L964.2,478.20L990.2,549.40"/>
<path d="M285.3,619.27L287.3,617.86L289.3,616.44L291.3,615.02L293.3,613.60L295.3,612.18L297.3,610.76L299.3,609.34L301.3,607.92L303.3,606.50L305.3,605.08L307.3,603.66L309.3,602.24L311.3,600.82L313.3,599.40L315.3,597.98L317.3,596.56L319.3,595.15L321.3,593.73L323.3,592.32L325.3,590.91L327.3,589.50L329.3,588.09L331.3,586.68L333.3,585.27L335.3,583.87L337.3,582.47L339.3,581.07L341.3,579.68L343.3,578.28L345.3,576.89L347.3,575.51L349.3,574.12L351.3,572.74L353.3,571.36L355.3,569.99L357.3,568.62L359.3,567.25L361.3,565.89L363.3,564.53L365.3,563.18L367.3,561.83L369.3,560.49L371.3,559.15L373.3,557.81L375.3,556.48L377.3,555.16L379.3,553.84L381.3,552.52L383.3,551.21L385.3,549.91L387.3,548.61L389.3,547.32L391.3,546.04L393.3,544.76L395.3,543.48L397.3,542.22L399.3,540.96L401.3,539.71L403.3,538.46L405.3,537.22L407.3,535.99L409.3,534.77L411.3,533.55L413.3,532.34L415.3,531.14L417.3,529.95L419.3,528.76L421.3,527.59L423.3,526.42L425.3,525.26L427.3,524.11L429.3,522.97L431.3,521.83L433.3,520.71L435.3,519.59L437.3,518.49L439.3,517.39L441.3,516.31L443.3,515.23L445.3,514.16L447.3,513.11L449.3,512.06L451.3,511.02L453.3,510.00L455.3,508.98L457.3,507.98L459.3,506.99L461.3,506.00L463.3,505.03L465.3,504.07L467.3,503.12L469.3,502.19L471.3,501.26L473.3,500.35L475.3,499.45L477.3,498.56L479.3,497.68L481.3,496.82L483.3,495.97L485.3,495.13L487.3,494.30L489.3,493.48L491.3,492.68L493.3,491.89L495.3,491.11L497.3,490.34L499.3,489.58L501.3,488.83L503.3,488.10L505.3,487.38L507.3,486.67L509.3,485.97L511.3,485.28L513.3,484.61L515.3,483.94L517.3,483.29L519.3,482.65L521.3,482.02L523.3,481.40L525.3,480.79L527.3,480.20L529.3,479.61L531.3,479.04L533.3,478.47L535.3,477.92L537.3,477.38L539.3,476.85L541.3,476.33L543.3,475.82L545.3,475.32L547.3,474.83L549.3,474.36L551.3,473.89L553.3,473.43L555.3,472.99L557.3,472.55L559.3,472.13L561.3,471.72L563.3,471.31L565.3,470.92L567.3,470.54L569.3,470.17L571.3,469.80L573.3,469.45L575.3,469.11L577.3,468.78L579.3,468.45L581.3,468.14L583.3,467.84L585.3,467.55L587.3,467.27L589.3,466.99L591.3,466.73L593.3,466.48L595.3,466.23L597.3,466.00L599.3,465.77L601.3,465.56L603.3,465.35L605.3,465.16L607.3,464.97L609.3,464.79L611.3,464.63L613.3,464.47L615.3,464.32L617.3,464.18L619.3,464.05L621.3,463.92L623.3,463.81L625.3,463.70L627.3,463.61L629.3,463.52L631.3,463.44L633.3,463.37L635.3,463.31L637.3,463.26L639.3,463.22L641.3,463.18L643.3,463.16L645.3,463.14L647.3,463.13L649.3,463.13L651.3,463.13L653.3,463.15L655.3,463.17L657.3,463.20L659.3,463.24L661.3,463.28L663.3,463.33L665.3,463.39L667.3,463.46L669.3,463.53L671.3,463.61L673.3,463.70L675.3,463.80L677.3,463.90L679.3,464.01L681.3,464.12L683.3,464.24L685.3,464.37L687.3,464.51L689.3,464.65L691.3,464.79L693.3,464.94L695.3,465.10L697.3,465.26L699.3,465.43L701.3,465.61L703.3,465.79L705.3,465.97L707.3,466.16L709.3,466.36L711.3,466.56L713.3,466.76L715.3,466.97L717.3,467.19L719.3,467.41L721.3,467.63L723.3,467.86L725.3,468.09L727.3,468.33L729.3,468.57L731.3,468.81L733.3,469.06L735.3,469.31L737.3,469.57L739.3,469.83L741.3,470.09L743.3,470.35L745.3,470.62L747.3,470.89L749.3,471.17L751.3,471.45L753.3,471.73L755.3,472.01L757.3,472.30L759.3,472.59L761.3,472.88L763.3,473.17L765.3,473.47L767.3,473.77L769.3,474.08L771.3,474.39L773.3,474.70L775.3,475.02L777.3,475.35L779.3,475.67L781.3,476.01L783.3,476.34L785.3,476.69L787.3,477.04L789.3,477.39L791.3,477.75L793.3,478.12L795.3,478.49L797.3,478.87L799.3,479.26L801.3,479.66L803.3,480.06L805.3,480.47L807.3,480.88L809.3,481.30L811.3,481.73L813.3,482.17L815.3,482.61L817.3,483.06L819.3,483.52L821.3,483.98L823.3,484.45L825.3,484.92L827.3,485.40L829.3,485.89L831.3,486.37L833.3,486.87L835.3,487.37L837.3,487.87L839.3,488.38L841.3,488.89L843.3,489.40L845.3,489.92L847.3,490.45L849.3,490.97L851.3,491.50L853.3,492.03L855.3,492.57L857.3,493.11L859.3,493.65L861.3,494.19L863.3,494.74L865.3,495.29L867.3,495.85L869.3,496.40L871.3,496.96L873.3,497.53L875.3,498.09L877.3,498.66L879.3,499.24L881.3,499.81L883.3,500.39L885.3,500.97L887.3,501.54L889.3,502.12L891.3,502.70L893.3,503.29L895.3,503.87L897.3,504.45L899.3,505.03L901.3,505.62L903.3,506.21L905.3,506.79L907.3,507.38L909.3,507.97L911.3,508.56L913.3,509.15L915.3,509.75L917.3,510.34L919.3,510.94L921.3,511.53L923.3,512.13L925.3,512.73L927.3,513.33L929.3,513.93L931.3,514.53L933.3,515.13L935.3,515.73L937.3,516.33L939.3,516.93L941.3,517.53L943.3,518.13L945.3,518.73L947.3,519.33L949.3,519.93L951.3,520.53L953.3,521.13L955.3,521.73L957.3,522.33L959.3,522.93L961.3,523.53L963.3,524.13L964.2,524.40L990.2,591.10"/>
</g>
<g font-size="23.5"><text x="155" y="242" text-anchor="end">1000</text><text x="155.8" y="402.6" text-anchor="end">100</text><text x="157" y="561.8" text-anchor="end">10</text></g>
<text x="152.4" y="746.8" font-size="23">10<tspan font-size="15.5" dx="-0.4" dy="-12.6">-3</tspan></text><text x="306.6" y="746.8" font-size="23">10<tspan font-size="15.5" dx="-0.4" dy="-12.6">-2</tspan></text><text x="471.9" y="746.8" font-size="23">10<tspan font-size="15.5" dx="-0.4" dy="-12.6">-1</tspan></text><text x="638.3" y="746.8" font-size="23">1</text><text x="788.6" y="746.8" font-size="23">10</text><text x="947.0" y="746.8" font-size="23">10<tspan font-size="15.5" dx="-0.4" dy="-12.6">2</tspan></text>
<text x="1000" y="158.2" font-size="23.5" textLength="181.4" lengthAdjust="spacingAndGlyphs">ZJC5000/ZJ5000</text>
<text x="1000" y="200.7" font-size="23.5" textLength="181.4" lengthAdjust="spacingAndGlyphs">ZJC2500/ZJ2500</text>
<text x="1000" y="243.5" font-size="23.5" textLength="181.4" lengthAdjust="spacingAndGlyphs">ZJC1800/ZJ1800</text>
<text x="1000" y="300.4" font-size="23.5" textLength="181.4" lengthAdjust="spacingAndGlyphs">ZJC1200/ZJ1200</text>
<text x="1000" y="349.0" font-size="23.5" textLength="155.0" lengthAdjust="spacingAndGlyphs">ZJC900/ZJ900</text>
<text x="1000" y="400.8" font-size="23.5" textLength="155.0" lengthAdjust="spacingAndGlyphs">ZJC600/ZJ600</text>
<text x="1000" y="447.1" font-size="23.5" textLength="155.0" lengthAdjust="spacingAndGlyphs">ZJC300/ZJ300</text>
<text x="1000" y="494.1" font-size="23.5" textLength="155.0" lengthAdjust="spacingAndGlyphs">ZJC150/ZJ150</text>
<text x="1000" y="564.1" font-size="23.5" textLength="130.3" lengthAdjust="spacingAndGlyphs">ZJC70-ZJ70</text>
<text x="1000" y="602.9" font-size="23.5" textLength="130.3" lengthAdjust="spacingAndGlyphs">ZJC30-ZJ30</text>
<text transform="translate(73,355.8) rotate(-90) scale(1,0.91)" font-size="23.5" textLength="93.4" lengthAdjust="spacingAndGlyphs">抽气速率</text>
<text transform="translate(73.8,254.4) rotate(-90)" font-size="23.4" textLength="222" lengthAdjust="spacingAndGlyphs">Pumping Speed (L/s)</text>
<text x="631" y="816.5" font-size="31" font-weight="500" font-family="'Noto Sans CJK SC',sans-serif">进口压力</text>
<text x="771.7" y="815.0" font-size="23.6" textLength="47.6" lengthAdjust="spacingAndGlyphs">Inlet</text>
<text x="827.3" y="815.0" font-size="23.6" textLength="138.6" lengthAdjust="spacingAndGlyphs">Pressure Pa</text>
</svg>
</body></html>
